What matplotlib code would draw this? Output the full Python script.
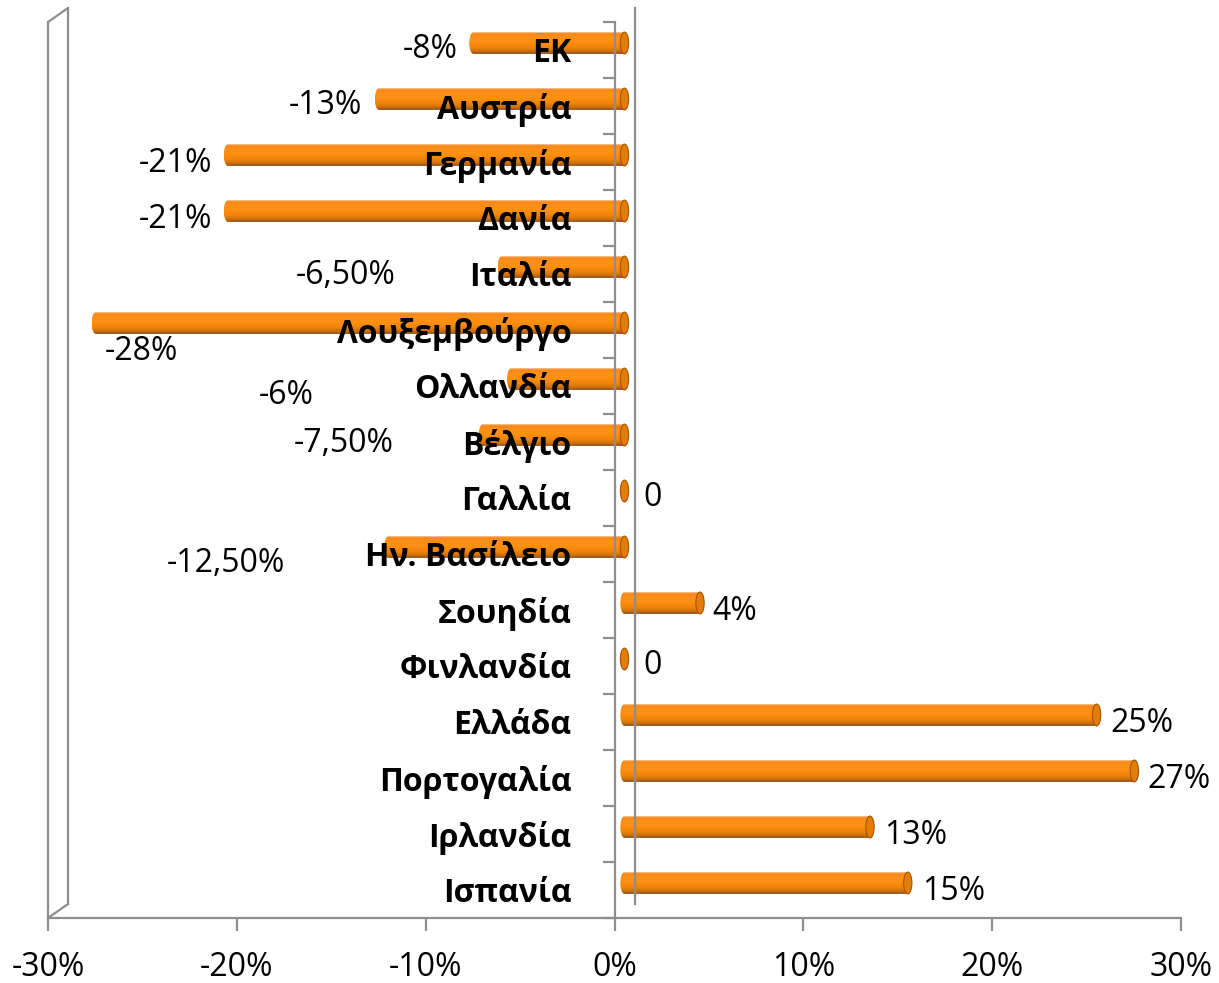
import matplotlib
matplotlib.use("Agg")
import matplotlib.pyplot as plt
import numpy as np
from matplotlib.patches import PathPatch, Ellipse, ConnectionPatch
from matplotlib.path import Path
from matplotlib.transforms import offset_copy
from matplotlib.colors import to_rgb
from matplotlib.ticker import FuncFormatter, FixedLocator

# data, top to bottom as in the chart
countries = ["ΕΚ", "Αυστρία", "Γερμανία", "Δανία", "Ιταλία", "Λουξεμβούργο",
             "Ολλανδία", "Βέλγιο", "Γαλλία", "Ην. Βασίλειο", "Σουηδία",
             "Φινλανδία", "Ελλάδα", "Πορτογαλία", "Ιρλανδία", "Ισπανία"]
values = [-0.08, -0.13, -0.21, -0.21, -0.065, -0.28, -0.06, -0.075, 0.0,
          -0.125, 0.04, 0.0, 0.25, 0.27, 0.13, 0.15]
value_labels = ["-8%", "-13%", "-21%", "-21%", "-6,50%", "-28%", "-6%",
                "-7,50%", "0", "-12,50%", "4%", "0", "25%", "27%", "13%", "15%"]
xticks = [-0.3, -0.2, -0.1, 0.0, 0.1, 0.2, 0.3]

# label placement (pixels from the bar end), Excel puts some of them oddly
label_offsets = [(-16, -7), (-17, -7), (-16, -8), (-16, -8), (-106, -8),
                 (9, -29), (-197, -17), (-89, -8), (19, -7), (-103, -17),
                 (12, -8), (19, -7), (14, -8), (13, -8), (14, -8), (14, -8)]

plt.rcParams['font.family'] = ['Open Sans', 'DejaVu Sans']
GRAY = '#8E8E8E'
FS = 23

W, H = 1219, 983
fig = plt.figure(figsize=(W / 100, H / 100), dpi=100)
ax = fig.add_axes([48 / W, (H - 918) / H, 1133 / W, 896 / H])
ax.set_axisbelow(False)

n = len(countries)
ypos = np.arange(n)

# bars sit half way into the 3d depth
bar_tr = offset_copy(ax.transData, fig=fig, x=10, y=7, units='dots')
back_tr = offset_copy(ax.transData, fig=fig, x=20, y=14, units='dots')

bar_h = 0.39
cap_a = 0.0022  # half width of the end ellipse in data units

stops = [0.0, 0.06, 0.4, 0.7, 0.88, 1.0]
cols = ['#F2C59A', '#F58A1E', '#FF9212', '#F08508', '#CC6E08', '#8E5020']
rgb = np.array([to_rgb(c) for c in cols])
t = np.linspace(0, 1, 64)
grad = np.stack([np.interp(t, stops, rgb[:, k]) for k in range(3)], axis=1)[:, None, :]


def bar_path(x0, x1, yc):
    b = bar_h / 2
    th1 = np.linspace(np.pi / 2, 3 * np.pi / 2, 30)
    left = np.column_stack([x0 + cap_a * np.cos(th1), yc - b * np.sin(th1)])
    th2 = np.linspace(-np.pi / 2, np.pi / 2, 30)
    right = np.column_stack([x1 + cap_a * np.cos(th2), yc - b * np.sin(th2)])
    verts = np.vstack([left, right, left[:1]])
    codes = [Path.MOVETO] + [Path.LINETO] * (len(verts) - 2) + [Path.CLOSEPOLY]
    return Path(verts, codes)


for i, v in enumerate(values):
    yc = ypos[i]
    x0, x1 = min(0, v), max(0, v)
    patch = PathPatch(bar_path(x0, x1, yc), facecolor='none', edgecolor='none',
                      transform=bar_tr)
    ax.add_patch(patch)
    img = ax.imshow(grad, extent=(x0 - cap_a, x1 + cap_a, yc + bar_h / 2, yc - bar_h / 2),
                    origin='upper', aspect='auto', transform=bar_tr, zorder=2,
                    interpolation='bilinear')
    img.set_clip_path(patch)
    cap = Ellipse((x1, yc), 2 * cap_a, bar_h, facecolor='#E27C0A',
                  edgecolor='#A85400', lw=0.8, transform=bar_tr, zorder=2.1)
    ax.add_patch(cap)

    dx, dy = label_offsets[i]
    if v < 0:
        anchor = x0
        ha = 'left' if dx > 0 else 'right'
    else:
        anchor = x1
        ha = 'left'
    ax.annotate(value_labels[i], (anchor, yc), xycoords=bar_tr,
                xytext=(dx, dy), textcoords='offset pixels', ha=ha, va='center',
                fontsize=FS, color='black', zorder=5)

ax.set_xlim(-0.3, 0.3)
ax.set_ylim(n - 0.5, -0.5)

# front frame
for s in ['top', 'right']:
    ax.spines[s].set_visible(False)
ax.spines['bottom'].set_color(GRAY)
ax.spines['bottom'].set_linewidth(1.6)
ax.spines['left'].set_position(('data', 0))
ax.spines['left'].set_color(GRAY)
ax.spines['left'].set_linewidth(1.6)
ax.axvline(-0.3, color=GRAY, lw=1.6, clip_on=False, zorder=3)

# back wall
ax.plot([-0.3, -0.3], [n - 0.5, -0.5], color=GRAY, lw=1.6, transform=back_tr, clip_on=False)
ax.plot([0, 0], [n - 0.5, -0.5], color=GRAY, lw=1.6, transform=back_tr, clip_on=False, zorder=3)
for yy in [-0.5, n - 0.5]:
    ax.add_artist(ConnectionPatch((-0.3, yy), (-0.3, yy), coordsA=ax.transData,
                                  coordsB=back_tr, color=GRAY, lw=1.6))

ax.set_xticks(xticks)
ax.xaxis.set_major_formatter(FuncFormatter(lambda v, p: f"{round(v * 100):d}%"))
ax.tick_params(axis='x', direction='out', length=9, width=1.6, color=GRAY,
               labelsize=FS, pad=15)

ax.set_yticks(ypos)
ax.set_yticklabels(countries, fontweight='bold')
ax.yaxis.set_minor_locator(FixedLocator(np.arange(n + 1) - 0.5))
ax.tick_params(axis='y', which='major', length=0, labelsize=FS, pad=31)
ax.tick_params(axis='y', which='minor', direction='out', length=9, width=1.6, color=GRAY)

fig.savefig("out.png", dpi=100)
